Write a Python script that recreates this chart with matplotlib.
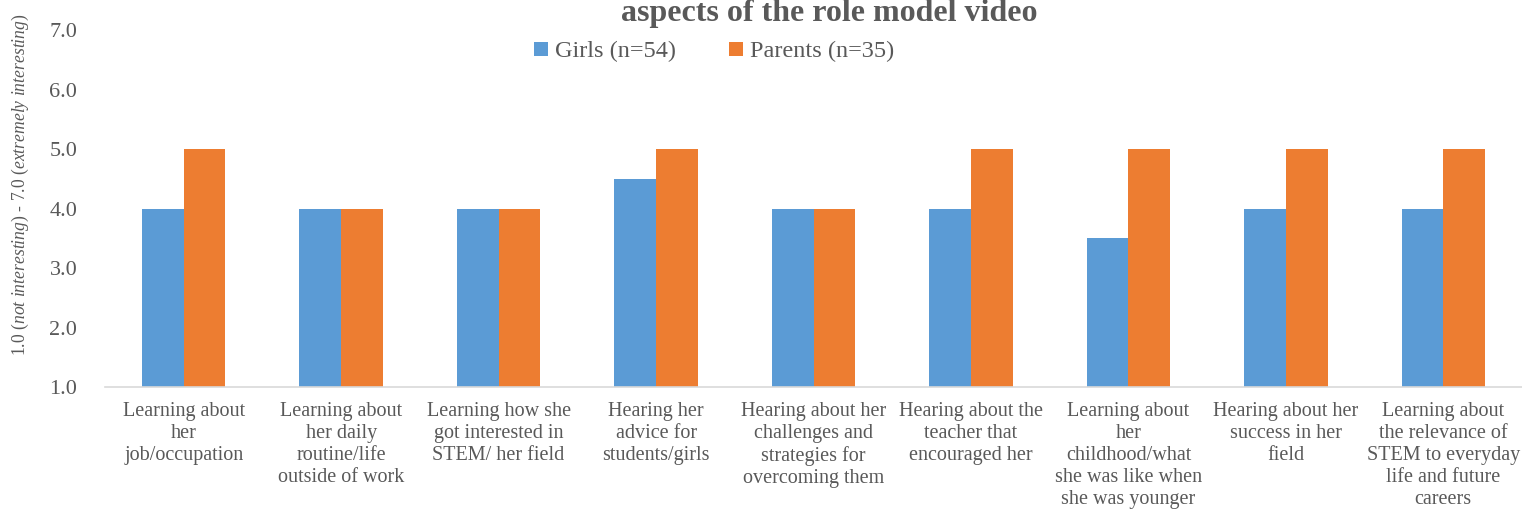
import matplotlib.pyplot as plt
import numpy as np

categories = [
    "Learning about\nher\njob/occupation",
    "Learning about\nher daily\nroutine/life\noutside of work",
    "Learning how she\ngot interested in\nSTEM/ her field",
    "Hearing her\nadvice for\nstudents/girls",
    "Hearing about her\nchallenges and\nstrategies for\novercoming them",
    "Hearing about the\nteacher that\nencouraged her",
    "Learning about\nher\nchildhood/what\nshe was like when\nshe was younger",
    "Hearing about her\nsuccess in her\nfield",
    "Learning about\nthe relevance of\nSTEM to everyday\nlife and future\ncareers",
]
girls = [4.0, 4.0, 4.0, 4.5, 4.0, 4.0, 3.5, 4.0, 4.0]
parents = [5.0, 4.0, 4.0, 5.0, 4.0, 5.0, 5.0, 5.0, 5.0]
yticks = [1.0, 2.0, 3.0, 4.0, 5.0, 6.0, 7.0]

plt.rcParams['font.family'] = ['Liberation Serif', 'DejaVu Serif']
plt.rcParams['mathtext.fontset'] = 'custom'
plt.rcParams['mathtext.rm'] = 'Liberation Serif'
plt.rcParams['mathtext.it'] = 'Liberation Serif:italic'

gray = '#595959'
fig = plt.figure(figsize=(15.22, 5.14), dpi=100)
ax = fig.add_axes([0.069, 0.247, 0.931, 0.6944])

x = np.arange(len(categories))
w = 0.265
ax.bar(x - w / 2, girls, w, color='#5B9BD5', label='Girls (n=54)')
ax.bar(x + w / 2, parents, w, color='#ED7D31', label='Parents (n=35)')

ax.set_xlim(-0.5, len(categories) - 0.5)
ax.set_ylim(1, 7)
ax.set_yticks(yticks)
ax.set_yticklabels([f"{v:.1f}" for v in yticks])
ax.set_xticks(x)
ax.set_xticklabels(categories, fontsize=14.5, color=gray, linespacing=1.2)
ax.tick_params(axis='x', length=0, pad=11)
ax.tick_params(axis='y', length=0, pad=20, labelsize=16, labelcolor=gray)

for s in ['top', 'right', 'left']:
    ax.spines[s].set_visible(False)
ax.spines['bottom'].set_color('#D9D9D9')
ax.spines['bottom'].set_linewidth(1.2)

ax.set_ylabel(r"1.0 ($\mathit{not\ interesting}$) - 7.0 ($\mathit{extremely\ interesting}$)",
              fontsize=12.7, color=gray)
ax.yaxis.set_label_coords(-0.052, 0.566)

ax.legend(loc='upper center', bbox_to_anchor=(0.43, 1.03), ncol=2, frameon=False,
          fontsize=17.5, labelcolor=gray, handlelength=0.55, handleheight=0.55,
          handletextpad=0.3, columnspacing=2.2)

fig.text(0.545, 1 - 21 / 514, "aspects of the role model video", ha='center', va='baseline',
         fontsize=23, fontweight='bold', color=gray)

fig.savefig('out.png', dpi=100)
